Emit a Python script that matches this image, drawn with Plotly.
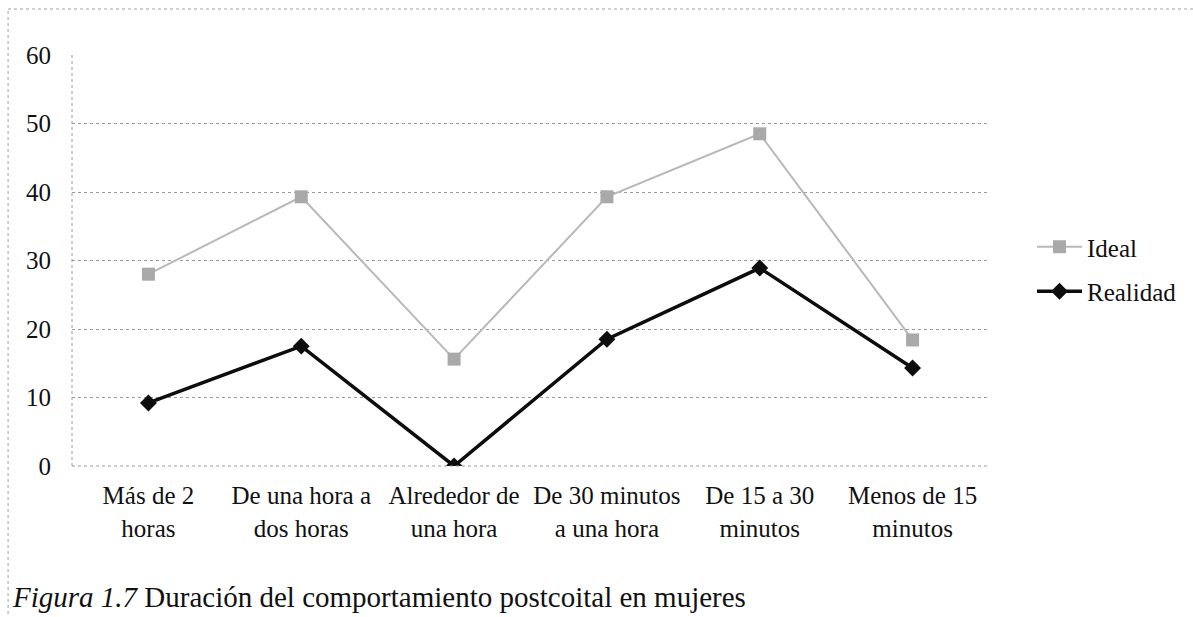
import plotly.graph_objects as go

categories = [
    "Más de 2<br>horas",
    "De una hora a<br>dos horas",
    "Alrededor de<br>una hora",
    "De 30 minutos<br>a una hora",
    "De 15 a 30<br>minutos",
    "Menos de 15<br>minutos",
]
ideal = [28.0, 39.3, 15.6, 39.3, 48.5, 18.4]
realidad = [9.2, 17.5, 0.0, 18.5, 28.9, 14.3]
y_ticks = [0, 10, 20, 30, 40, 50, 60]

W, H = 1193, 617
L, R, T, B = 72, 203, 55, 151
pw, ph = W - L - R, H - T - B


def px_x(x):
    return (x - L) / pw


def px_y(y):
    return (H - B - y) / ph


serif = "Liberation Serif, serif"

fig = go.Figure()
fig.add_trace(go.Scatter(
    x=categories, y=ideal, name="Ideal", mode="lines+markers",
    legendgroup="ideal",
    line=dict(color="#b8b8b8", width=2),
    marker=dict(symbol="square", size=13, color="#a9a9a9"),
))
fig.add_trace(go.Scatter(
    x=categories, y=realidad, name="Realidad", mode="lines+markers",
    legendgroup="realidad",
    line=dict(color="#0d0d0d", width=3.5),
    marker=dict(symbol="diamond", size=13, color="#0d0d0d"),
))

fig.update_layout(
    width=W, height=H,
    margin=dict(l=L, r=R, t=T, b=B),
    paper_bgcolor="white", plot_bgcolor="white",
    font=dict(family=serif, size=24, color="#111111"),
    showlegend=True,
    legend=dict(x=px_x(1032), y=px_y(269), xanchor="left", yanchor="middle",
                font=dict(size=25), itemwidth=45, traceorder="grouped",
                tracegroupgap=9, bgcolor="rgba(0,0,0,0)"),
    xaxis=dict(range=[-0.5, 5.5], showgrid=False, zeroline=False,
               ticks="", tickfont=dict(size=25), ticklabelstandoff=12),
    yaxis=dict(range=[0, 60], tickvals=y_ticks, showgrid=True,
               gridcolor="#9a9a9a", griddash="dot", gridwidth=1,
               zeroline=False, ticks="", ticklabelstandoff=20,
               tickfont=dict(size=25)),
)

# Plot-area frame: dotted left and bottom edges
fig.add_shape(type="line", xref="paper", yref="paper", x0=0, x1=0, y0=0, y1=1,
              line=dict(color="#9a9a9a", width=1, dash="dot"))
fig.add_shape(type="line", xref="paper", yref="paper", x0=0, x1=1, y0=0, y1=0,
              line=dict(color="#9a9a9a", width=1, dash="dot"))

# Outer figure frame (left and top edges)
fig.add_shape(type="line", xref="paper", yref="paper",
              x0=px_x(8), x1=px_x(8), y0=px_y(620), y1=px_y(9),
              line=dict(color="#a0a0a0", width=1, dash="dot"))
fig.add_shape(type="line", xref="paper", yref="paper",
              x0=px_x(8), x1=px_x(1195), y0=px_y(9), y1=px_y(9),
              line=dict(color="#a0a0a0", width=1, dash="dot"))

fig.add_annotation(
    xref="paper", yref="paper", x=px_x(10), y=px_y(597),
    xanchor="left", yanchor="middle", showarrow=False,
    text="<i>Figura 1.7</i> Duración del comportamiento postcoital en mujeres",
    font=dict(family=serif, size=29, color="#111111"),
)

fig.write_html("out.html")
